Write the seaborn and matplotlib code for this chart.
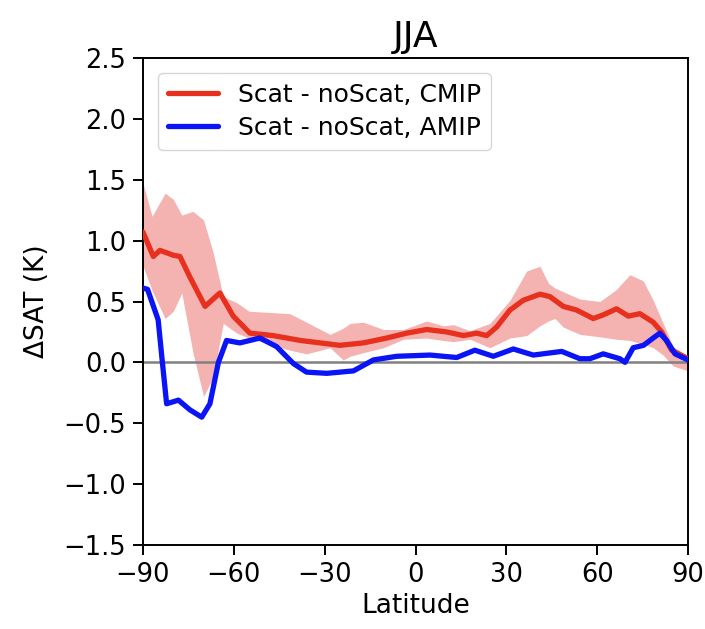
import numpy as np
import pandas as pd
import seaborn as sns
import matplotlib
matplotlib.use("Agg")
import matplotlib.pyplot as plt

# CMIP mean (red)
cmip_lat = [-90, -86.6, -84.4, -80, -77.8, -74.5, -69.5, -64.6, -60.2, -54.7, -47, -38, -31.5, -25,
            -17.2, -9.5, -2.9, 3.7, 10.3, 15.8, 20.2, 23.5, 26.8, 31.2, 35.6, 41.1, 44.4, 48.8,
            53.2, 58.7, 62, 66.4, 70.3, 74.1, 78.5, 81.3, 84.6, 90]
cmip_val = [1.07, 0.87, 0.92, 0.88, 0.87, 0.70, 0.46, 0.57, 0.38, 0.24, 0.22, 0.18, 0.16, 0.14,
            0.16, 0.20, 0.24, 0.27, 0.25, 0.22, 0.24, 0.22, 0.29, 0.43, 0.51, 0.56, 0.54, 0.46,
            0.43, 0.36, 0.39, 0.44, 0.38, 0.40, 0.33, 0.25, 0.10, 0.03]

# AMIP (blue)
amip_lat = [-90, -88.5, -85, -83.8, -82.2, -78.3, -74.5, -70.6, -67.9, -65.1, -62.4, -58, -51.4,
            -45.9, -40.3, -36, -29.3, -20.5, -13.9, -6.2, 4.8, 13.6, 19.6, 25.7, 32.3, 38.9,
            48.3, 54.3, 57.6, 62, 67.5, 69.2, 71.9, 75.3, 78.5, 80.7, 82.9, 85.7, 90]
amip_val = [0.61, 0.60, 0.35, 0.05, -0.34, -0.31, -0.39, -0.45, -0.34, 0.0, 0.18, 0.16, 0.20,
            0.13, -0.01, -0.08, -0.09, -0.07, 0.02, 0.05, 0.06, 0.04, 0.10, 0.05, 0.11, 0.06,
            0.09, 0.03, 0.03, 0.07, 0.03, 0.0, 0.12, 0.14, 0.20, 0.24, 0.18, 0.07, 0.02]

# CMIP spread (shaded band)
band_lat = [-90, -87, -82.7, -80, -77.2, -73.5, -70, -66.8, -63.5, -59, -55, -41.5, -36,
            -28.2, -23.9, -21.6, -17.2, -10.6, -4, 3.7, 9.2, 12.5, 18, 24.6, 31.2, 36.7,
            41.1, 43.9, 46.1, 48.8, 54.3, 60.9, 66.4, 70.8, 75.2, 78.5, 81.8, 85.1, 90]
band_hi = [1.47, 1.20, 1.39, 1.34, 1.21, 1.24, 1.17, 0.90, 0.54, 0.49, 0.42, 0.40, 0.33,
           0.23, 0.28, 0.32, 0.33, 0.27, 0.27, 0.34, 0.30, 0.31, 0.26, 0.32, 0.51, 0.75,
           0.79, 0.65, 0.61, 0.58, 0.52, 0.50, 0.60, 0.72, 0.67, 0.51, 0.32, 0.13, 0.05]
band_lo = [0.79, 0.59, 0.36, 0.42, 0.57, 0.08, -0.28, -0.12, 0.32, 0.24, 0.20, 0.10, 0.07,
           0.12, 0.02, 0.05, 0.08, 0.12, 0.19, 0.20, 0.18, 0.17, 0.19, 0.12, 0.20, 0.22,
           0.30, 0.34, 0.36, 0.29, 0.23, 0.21, 0.19, 0.18, 0.15, 0.12, 0.06, -0.03, -0.07]

title = "JJA"
xlabel = "Latitude"
ylabel = "ΔSAT (K)"
label_cmip = "Scat - noScat, CMIP"
label_amip = "Scat - noScat, AMIP"
xticks = [-90, -60, -30, 0, 30, 60, 90]
yticks = [-1.5, -1.0, -0.5, 0.0, 0.5, 1.0, 1.5, 2.0, 2.5]

sns.set_style("ticks")
plt.rcParams['font.family'] = ['DejaVu Sans']
plt.rcParams['text.color'] = 'black'
plt.rcParams['axes.labelcolor'] = 'black'
plt.rcParams['xtick.color'] = 'black'
plt.rcParams['ytick.color'] = 'black'

red = "#e8301e"
blue = "#0a14f5"

fig = plt.figure(figsize=(7.05, 6.29), dpi=100)
ax = fig.add_axes([143/705, 1 - 545/629, (688-143)/705, (545-58)/629])

ax.fill_between(band_lat, band_lo, band_hi, color="#f4b3b1", linewidth=0, zorder=1)
ax.axhline(0, color="gray", linewidth=1.8, zorder=2)

df_c = pd.DataFrame({"lat": cmip_lat, "val": cmip_val})
df_a = pd.DataFrame({"lat": amip_lat, "val": amip_val})
sns.lineplot(data=df_c, x="lat", y="val", ax=ax, color=red, linewidth=3.8, label=label_cmip, zorder=3)
sns.lineplot(data=df_a, x="lat", y="val", ax=ax, color=blue, linewidth=3.8, label=label_amip, zorder=4)

ax.set_xlim(-90, 90)
ax.set_ylim(-1.5, 2.5)
ax.set_xticks(xticks)
ax.set_yticks(yticks)
ax.set_xticklabels([("\u2212" + str(abs(t))) if t < 0 else str(t) for t in xticks])
ax.set_yticklabels([("\u2212" + f"{abs(t):.1f}") if t < 0 else f"{t:.1f}" for t in yticks])
ax.tick_params(labelsize=18.5, length=7, width=1.4, direction="out", pad=5)
ax.set_xlabel(xlabel, fontsize=19, labelpad=4)
ax.set_ylabel(ylabel, fontsize=19, labelpad=10)
ax.set_title(title, fontsize=26, pad=8)
for s in ax.spines.values():
    s.set_visible(True)
    s.set_linewidth(1.4)
    s.set_color("black")

leg = ax.legend(loc="upper left", fontsize=18, frameon=True, handlelength=2.0,
                borderaxespad=0.6, labelspacing=0.35)
leg.get_frame().set_edgecolor("#cccccc")
for l in leg.get_lines():
    l.set_linewidth(3.8)

fig.savefig("out.png", dpi=100)
